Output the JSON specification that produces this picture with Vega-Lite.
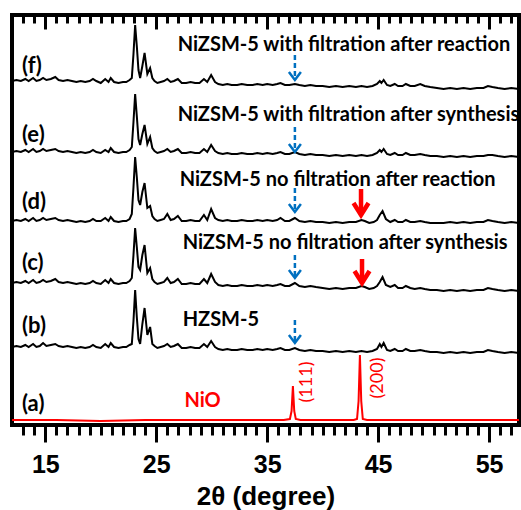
{
"$schema": "https://vega.github.io/schema/vega-lite/v6.json",
"width": 507, "height": 410,
"autosize": "none",
"padding": {"left": 12, "top": 15, "right": 2, "bottom": 85},
"background": "white",
"config": {"view": {"stroke": "black", "strokeWidth": 4}},
"datasets": {
"traces": [
{"s":"f","x":12,"y":344},{"s":"f","x":12.4,"y":345},{"s":"f","x":12.8,"y":344},{"s":"f","x":13.2,"y":346},{"s":"f","x":13.5,"y":344},{"s":"f","x":13.9,"y":347},{"s":"f","x":14.2,"y":344},{"s":"f","x":14.5,"y":345},{"s":"f","x":14.8,"y":347},{"s":"f","x":15.1,"y":345},{"s":"f","x":15.5,"y":346},{"s":"f","x":15.9,"y":348},{"s":"f","x":16.2,"y":345},{"s":"f","x":16.6,"y":344},{"s":"f","x":17,"y":345},{"s":"f","x":17.4,"y":344},{"s":"f","x":17.8,"y":343},{"s":"f","x":18.2,"y":344},{"s":"f","x":18.6,"y":343},{"s":"f","x":19,"y":344},{"s":"f","x":19.3,"y":346},{"s":"f","x":19.6,"y":344},{"s":"f","x":20,"y":342},{"s":"f","x":20.4,"y":346},{"s":"f","x":20.7,"y":343},{"s":"f","x":20.9,"y":347},{"s":"f","x":21.2,"y":343},{"s":"f","x":21.6,"y":342},{"s":"f","x":22,"y":343},{"s":"f","x":22.3,"y":343},{"s":"f","x":22.6,"y":345},{"s":"f","x":22.8,"y":347},{"s":"f","x":22.95,"y":371},{"s":"f","x":23.1,"y":400},{"s":"f","x":23.25,"y":379},{"s":"f","x":23.4,"y":355},{"s":"f","x":23.55,"y":347},{"s":"f","x":23.75,"y":359},{"s":"f","x":23.95,"y":372},{"s":"f","x":24.2,"y":351},{"s":"f","x":24.45,"y":357},{"s":"f","x":24.65,"y":347},{"s":"f","x":24.85,"y":344},{"s":"f","x":25.1,"y":342},{"s":"f","x":25.4,"y":343},{"s":"f","x":25.7,"y":344},{"s":"f","x":26,"y":346},{"s":"f","x":26.3,"y":343},{"s":"f","x":26.6,"y":344},{"s":"f","x":26.95,"y":346},{"s":"f","x":27.3,"y":342},{"s":"f","x":27.7,"y":342},{"s":"f","x":28.1,"y":343},{"s":"f","x":28.5,"y":342},{"s":"f","x":28.9,"y":342},{"s":"f","x":29.3,"y":346},{"s":"f","x":29.6,"y":343},{"s":"f","x":29.95,"y":350},{"s":"f","x":30.3,"y":343},{"s":"f","x":30.6,"y":341},{"s":"f","x":31,"y":340},{"s":"f","x":31.4,"y":341},{"s":"f","x":31.8,"y":340},{"s":"f","x":32.3,"y":340},{"s":"f","x":32.7,"y":341},{"s":"f","x":33.2,"y":340},{"s":"f","x":33.7,"y":340},{"s":"f","x":34.1,"y":341},{"s":"f","x":34.6,"y":340},{"s":"f","x":35,"y":341},{"s":"f","x":35.5,"y":340},{"s":"f","x":35.9,"y":341},{"s":"f","x":36.2,"y":342},{"s":"f","x":36.6,"y":340},{"s":"f","x":37,"y":340},{"s":"f","x":37.5,"y":341},{"s":"f","x":37.9,"y":340},{"s":"f","x":38.4,"y":339},{"s":"f","x":38.9,"y":340},{"s":"f","x":39.4,"y":339},{"s":"f","x":40,"y":339},{"s":"f","x":40.6,"y":338},{"s":"f","x":41.2,"y":339},{"s":"f","x":41.8,"y":338},{"s":"f","x":42.4,"y":339},{"s":"f","x":43,"y":338},{"s":"f","x":43.5,"y":339},{"s":"f","x":44,"y":338},{"s":"f","x":44.5,"y":339},{"s":"f","x":44.9,"y":341},{"s":"f","x":45.15,"y":344},{"s":"f","x":45.3,"y":342},{"s":"f","x":45.5,"y":345},{"s":"f","x":45.8,"y":340},{"s":"f","x":46.1,"y":339},{"s":"f","x":46.5,"y":341},{"s":"f","x":46.8,"y":339},{"s":"f","x":47.2,"y":339},{"s":"f","x":47.5,"y":341},{"s":"f","x":47.9,"y":339},{"s":"f","x":48.3,"y":339},{"s":"f","x":48.8,"y":341},{"s":"f","x":49.2,"y":339},{"s":"f","x":49.7,"y":338},{"s":"f","x":50.3,"y":337},{"s":"f","x":50.9,"y":336},{"s":"f","x":51.5,"y":337},{"s":"f","x":52.1,"y":336},{"s":"f","x":52.7,"y":337},{"s":"f","x":53.3,"y":336},{"s":"f","x":53.9,"y":337},{"s":"f","x":54.5,"y":337},{"s":"f","x":54.9,"y":339},{"s":"f","x":55.3,"y":338},{"s":"f","x":55.8,"y":337},{"s":"f","x":56.4,"y":336},{"s":"f","x":57,"y":337},{"s":"f","x":57.7,"y":336},

{"s":"e","x":12,"y":273},{"s":"e","x":12.4,"y":274},{"s":"e","x":12.8,"y":273},{"s":"e","x":13.2,"y":275},{"s":"e","x":13.5,"y":273},{"s":"e","x":13.9,"y":276},{"s":"e","x":14.2,"y":273},{"s":"e","x":14.5,"y":274},{"s":"e","x":14.8,"y":276},{"s":"e","x":15.1,"y":274},{"s":"e","x":15.5,"y":275},{"s":"e","x":15.9,"y":276},{"s":"e","x":16.2,"y":274},{"s":"e","x":16.6,"y":273},{"s":"e","x":17,"y":274},{"s":"e","x":17.4,"y":273},{"s":"e","x":17.8,"y":272},{"s":"e","x":18.2,"y":273},{"s":"e","x":18.6,"y":272},{"s":"e","x":19,"y":273},{"s":"e","x":19.3,"y":275},{"s":"e","x":19.6,"y":273},{"s":"e","x":20,"y":272},{"s":"e","x":20.4,"y":275},{"s":"e","x":20.7,"y":273},{"s":"e","x":20.9,"y":277},{"s":"e","x":21.2,"y":273},{"s":"e","x":21.6,"y":272},{"s":"e","x":22,"y":273},{"s":"e","x":22.3,"y":273},{"s":"e","x":22.6,"y":275},{"s":"e","x":22.8,"y":278},{"s":"e","x":22.95,"y":303},{"s":"e","x":23.1,"y":331},{"s":"e","x":23.25,"y":309},{"s":"e","x":23.4,"y":286},{"s":"e","x":23.55,"y":280},{"s":"e","x":23.75,"y":291},{"s":"e","x":23.95,"y":300},{"s":"e","x":24.2,"y":281},{"s":"e","x":24.45,"y":288},{"s":"e","x":24.65,"y":277},{"s":"e","x":24.85,"y":274},{"s":"e","x":25.1,"y":272},{"s":"e","x":25.4,"y":273},{"s":"e","x":25.7,"y":274},{"s":"e","x":26,"y":276},{"s":"e","x":26.3,"y":273},{"s":"e","x":26.6,"y":274},{"s":"e","x":26.95,"y":276},{"s":"e","x":27.3,"y":272},{"s":"e","x":27.7,"y":272},{"s":"e","x":28.1,"y":273},{"s":"e","x":28.5,"y":272},{"s":"e","x":28.9,"y":272},{"s":"e","x":29.3,"y":276},{"s":"e","x":29.6,"y":273},{"s":"e","x":29.95,"y":280},{"s":"e","x":30.3,"y":274},{"s":"e","x":30.6,"y":272},{"s":"e","x":31,"y":271},{"s":"e","x":31.4,"y":272},{"s":"e","x":31.8,"y":271},{"s":"e","x":32.3,"y":271},{"s":"e","x":32.7,"y":272},{"s":"e","x":33.2,"y":271},{"s":"e","x":33.7,"y":271},{"s":"e","x":34.1,"y":272},{"s":"e","x":34.6,"y":271},{"s":"e","x":35,"y":272},{"s":"e","x":35.5,"y":271},{"s":"e","x":35.9,"y":272},{"s":"e","x":36.2,"y":273},{"s":"e","x":36.6,"y":271},{"s":"e","x":37,"y":271},{"s":"e","x":37.5,"y":273},{"s":"e","x":37.9,"y":271},{"s":"e","x":38.4,"y":270},{"s":"e","x":38.9,"y":271},{"s":"e","x":39.4,"y":270},{"s":"e","x":40,"y":270},{"s":"e","x":40.6,"y":269},{"s":"e","x":41.2,"y":270},{"s":"e","x":41.8,"y":269},{"s":"e","x":42.4,"y":270},{"s":"e","x":43,"y":269},{"s":"e","x":43.5,"y":270},{"s":"e","x":44,"y":269},{"s":"e","x":44.5,"y":270},{"s":"e","x":44.9,"y":272},{"s":"e","x":45.15,"y":275},{"s":"e","x":45.3,"y":273},{"s":"e","x":45.5,"y":276},{"s":"e","x":45.8,"y":271},{"s":"e","x":46.1,"y":270},{"s":"e","x":46.5,"y":272},{"s":"e","x":46.8,"y":270},{"s":"e","x":47.2,"y":270},{"s":"e","x":47.5,"y":272},{"s":"e","x":47.9,"y":270},{"s":"e","x":48.3,"y":270},{"s":"e","x":48.8,"y":271},{"s":"e","x":49.2,"y":270},{"s":"e","x":49.7,"y":269},{"s":"e","x":50.3,"y":269},{"s":"e","x":50.9,"y":268},{"s":"e","x":51.5,"y":269},{"s":"e","x":52.1,"y":268},{"s":"e","x":52.7,"y":269},{"s":"e","x":53.3,"y":268},{"s":"e","x":53.9,"y":269},{"s":"e","x":54.5,"y":269},{"s":"e","x":54.9,"y":270},{"s":"e","x":55.3,"y":270},{"s":"e","x":55.8,"y":269},{"s":"e","x":56.4,"y":268},{"s":"e","x":57,"y":269},{"s":"e","x":57.7,"y":268},

{"s":"d","x":12,"y":204},{"s":"d","x":12.4,"y":205},{"s":"d","x":12.8,"y":204},{"s":"d","x":13.2,"y":206},{"s":"d","x":13.5,"y":204},{"s":"d","x":13.9,"y":207},{"s":"d","x":14.2,"y":204},{"s":"d","x":14.5,"y":205},{"s":"d","x":14.8,"y":207},{"s":"d","x":15.1,"y":205},{"s":"d","x":15.5,"y":206},{"s":"d","x":15.9,"y":207},{"s":"d","x":16.2,"y":205},{"s":"d","x":16.6,"y":204},{"s":"d","x":17,"y":205},{"s":"d","x":17.4,"y":204},{"s":"d","x":17.8,"y":203},{"s":"d","x":18.2,"y":204},{"s":"d","x":18.6,"y":203},{"s":"d","x":19,"y":204},{"s":"d","x":19.3,"y":206},{"s":"d","x":19.6,"y":204},{"s":"d","x":20,"y":204},{"s":"d","x":20.4,"y":207},{"s":"d","x":20.7,"y":204},{"s":"d","x":20.9,"y":208},{"s":"d","x":21.2,"y":204},{"s":"d","x":21.6,"y":203},{"s":"d","x":22,"y":204},{"s":"d","x":22.3,"y":204},{"s":"d","x":22.6,"y":206},{"s":"d","x":22.8,"y":211},{"s":"d","x":22.95,"y":238},{"s":"d","x":23.1,"y":268},{"s":"d","x":23.25,"y":248},{"s":"d","x":23.4,"y":225},{"s":"d","x":23.55,"y":220},{"s":"d","x":23.75,"y":233},{"s":"d","x":23.95,"y":242},{"s":"d","x":24.2,"y":217},{"s":"d","x":24.45,"y":219},{"s":"d","x":24.65,"y":209},{"s":"d","x":24.85,"y":206},{"s":"d","x":25.1,"y":204},{"s":"d","x":25.4,"y":205},{"s":"d","x":25.7,"y":206},{"s":"d","x":26,"y":211},{"s":"d","x":26.3,"y":205},{"s":"d","x":26.6,"y":206},{"s":"d","x":26.95,"y":209},{"s":"d","x":27.3,"y":204},{"s":"d","x":27.7,"y":204},{"s":"d","x":28.1,"y":205},{"s":"d","x":28.5,"y":204},{"s":"d","x":28.9,"y":204},{"s":"d","x":29.3,"y":210},{"s":"d","x":29.6,"y":205},{"s":"d","x":29.95,"y":216},{"s":"d","x":30.3,"y":207},{"s":"d","x":30.6,"y":205},{"s":"d","x":31,"y":204},{"s":"d","x":31.4,"y":205},{"s":"d","x":31.8,"y":204},{"s":"d","x":32.3,"y":204},{"s":"d","x":32.7,"y":205},{"s":"d","x":33.2,"y":204},{"s":"d","x":33.7,"y":204},{"s":"d","x":34.1,"y":205},{"s":"d","x":34.6,"y":204},{"s":"d","x":35,"y":205},{"s":"d","x":35.5,"y":204},{"s":"d","x":35.9,"y":205},{"s":"d","x":36.2,"y":207},{"s":"d","x":36.6,"y":204},{"s":"d","x":37,"y":204},{"s":"d","x":37.5,"y":207},{"s":"d","x":37.9,"y":204},{"s":"d","x":38.4,"y":203},{"s":"d","x":38.9,"y":204},{"s":"d","x":39.4,"y":203},{"s":"d","x":40,"y":203},{"s":"d","x":40.6,"y":202},{"s":"d","x":41.2,"y":203},{"s":"d","x":41.8,"y":202},{"s":"d","x":42.4,"y":203},{"s":"d","x":43,"y":203},{"s":"d","x":43.5,"y":205},{"s":"d","x":43.8,"y":204},{"s":"d","x":44.2,"y":202},{"s":"d","x":44.6,"y":203},{"s":"d","x":44.9,"y":205},{"s":"d","x":45.15,"y":210},{"s":"d","x":45.4,"y":214},{"s":"d","x":45.7,"y":206},{"s":"d","x":46.1,"y":203},{"s":"d","x":46.5,"y":205},{"s":"d","x":46.8,"y":203},{"s":"d","x":47.2,"y":203},{"s":"d","x":47.5,"y":205},{"s":"d","x":47.9,"y":203},{"s":"d","x":48.3,"y":203},{"s":"d","x":48.8,"y":204},{"s":"d","x":49.2,"y":203},{"s":"d","x":49.7,"y":202},{"s":"d","x":50.3,"y":202},{"s":"d","x":50.9,"y":202},{"s":"d","x":51.5,"y":203},{"s":"d","x":52.1,"y":202},{"s":"d","x":52.7,"y":203},{"s":"d","x":53.3,"y":202},{"s":"d","x":53.9,"y":203},{"s":"d","x":54.5,"y":203},{"s":"d","x":54.9,"y":205},{"s":"d","x":55.3,"y":204},{"s":"d","x":55.8,"y":203},{"s":"d","x":56.4,"y":202},{"s":"d","x":57,"y":203},{"s":"d","x":57.7,"y":202},

{"s":"c","x":12,"y":142},{"s":"c","x":12.4,"y":143},{"s":"c","x":12.8,"y":142},{"s":"c","x":13.2,"y":144},{"s":"c","x":13.5,"y":142},{"s":"c","x":13.9,"y":145},{"s":"c","x":14.2,"y":142},{"s":"c","x":14.5,"y":143},{"s":"c","x":14.8,"y":145},{"s":"c","x":15.1,"y":143},{"s":"c","x":15.5,"y":144},{"s":"c","x":15.9,"y":146},{"s":"c","x":16.2,"y":143},{"s":"c","x":16.6,"y":142},{"s":"c","x":17,"y":143},{"s":"c","x":17.4,"y":142},{"s":"c","x":17.8,"y":141},{"s":"c","x":18.2,"y":142},{"s":"c","x":18.6,"y":141},{"s":"c","x":19,"y":142},{"s":"c","x":19.3,"y":144},{"s":"c","x":19.6,"y":142},{"s":"c","x":20,"y":141},{"s":"c","x":20.4,"y":145},{"s":"c","x":20.7,"y":142},{"s":"c","x":20.9,"y":146},{"s":"c","x":21.2,"y":142},{"s":"c","x":21.6,"y":141},{"s":"c","x":22,"y":142},{"s":"c","x":22.3,"y":142},{"s":"c","x":22.6,"y":144},{"s":"c","x":22.8,"y":147},{"s":"c","x":22.95,"y":170},{"s":"c","x":23.1,"y":197},{"s":"c","x":23.25,"y":178},{"s":"c","x":23.4,"y":158},{"s":"c","x":23.55,"y":155},{"s":"c","x":23.75,"y":170},{"s":"c","x":23.95,"y":180},{"s":"c","x":24.2,"y":152},{"s":"c","x":24.45,"y":157},{"s":"c","x":24.65,"y":146},{"s":"c","x":24.85,"y":143},{"s":"c","x":25.1,"y":141},{"s":"c","x":25.4,"y":142},{"s":"c","x":25.7,"y":143},{"s":"c","x":26,"y":147},{"s":"c","x":26.3,"y":142},{"s":"c","x":26.6,"y":143},{"s":"c","x":26.95,"y":146},{"s":"c","x":27.3,"y":141},{"s":"c","x":27.7,"y":141},{"s":"c","x":28.1,"y":142},{"s":"c","x":28.5,"y":141},{"s":"c","x":28.9,"y":141},{"s":"c","x":29.3,"y":146},{"s":"c","x":29.6,"y":142},{"s":"c","x":29.95,"y":151},{"s":"c","x":30.3,"y":143},{"s":"c","x":30.6,"y":140},{"s":"c","x":31,"y":139},{"s":"c","x":31.4,"y":140},{"s":"c","x":31.8,"y":139},{"s":"c","x":32.3,"y":139},{"s":"c","x":32.7,"y":140},{"s":"c","x":33.2,"y":139},{"s":"c","x":33.7,"y":139},{"s":"c","x":34.1,"y":140},{"s":"c","x":34.6,"y":139},{"s":"c","x":35,"y":140},{"s":"c","x":35.5,"y":139},{"s":"c","x":35.9,"y":140},{"s":"c","x":36.2,"y":141},{"s":"c","x":36.6,"y":139},{"s":"c","x":37,"y":139},{"s":"c","x":37.5,"y":142},{"s":"c","x":37.9,"y":139},{"s":"c","x":38.4,"y":138},{"s":"c","x":38.9,"y":139},{"s":"c","x":39.4,"y":138},{"s":"c","x":40,"y":137},{"s":"c","x":40.6,"y":136},{"s":"c","x":41.2,"y":137},{"s":"c","x":41.8,"y":136},{"s":"c","x":42.4,"y":137},{"s":"c","x":43,"y":137},{"s":"c","x":43.5,"y":139},{"s":"c","x":43.8,"y":138},{"s":"c","x":44.2,"y":136},{"s":"c","x":44.6,"y":137},{"s":"c","x":44.9,"y":139},{"s":"c","x":45.15,"y":143},{"s":"c","x":45.4,"y":148},{"s":"c","x":45.7,"y":140},{"s":"c","x":46.1,"y":138},{"s":"c","x":46.5,"y":140},{"s":"c","x":46.8,"y":137},{"s":"c","x":47.2,"y":137},{"s":"c","x":47.5,"y":139},{"s":"c","x":47.9,"y":137},{"s":"c","x":48.3,"y":136},{"s":"c","x":48.8,"y":137},{"s":"c","x":49.2,"y":136},{"s":"c","x":49.7,"y":135},{"s":"c","x":50.3,"y":135},{"s":"c","x":50.9,"y":134},{"s":"c","x":51.5,"y":135},{"s":"c","x":52.1,"y":134},{"s":"c","x":52.7,"y":135},{"s":"c","x":53.3,"y":134},{"s":"c","x":53.9,"y":135},{"s":"c","x":54.5,"y":135},{"s":"c","x":54.9,"y":137},{"s":"c","x":55.3,"y":136},{"s":"c","x":55.8,"y":135},{"s":"c","x":56.4,"y":134},{"s":"c","x":57,"y":135},{"s":"c","x":57.7,"y":134},

{"s":"b","x":12,"y":78},{"s":"b","x":12.4,"y":79},{"s":"b","x":12.8,"y":78},{"s":"b","x":13.2,"y":80},{"s":"b","x":13.5,"y":78},{"s":"b","x":13.9,"y":81},{"s":"b","x":14.2,"y":78},{"s":"b","x":14.5,"y":79},{"s":"b","x":14.8,"y":82},{"s":"b","x":15.1,"y":79},{"s":"b","x":15.5,"y":80},{"s":"b","x":15.9,"y":81},{"s":"b","x":16.2,"y":79},{"s":"b","x":16.6,"y":78},{"s":"b","x":17,"y":79},{"s":"b","x":17.4,"y":78},{"s":"b","x":17.8,"y":77},{"s":"b","x":18.2,"y":78},{"s":"b","x":18.6,"y":77},{"s":"b","x":19,"y":78},{"s":"b","x":19.3,"y":80},{"s":"b","x":19.6,"y":78},{"s":"b","x":20,"y":77},{"s":"b","x":20.4,"y":81},{"s":"b","x":20.7,"y":78},{"s":"b","x":20.9,"y":82},{"s":"b","x":21.2,"y":78},{"s":"b","x":21.6,"y":77},{"s":"b","x":22,"y":78},{"s":"b","x":22.3,"y":78},{"s":"b","x":22.6,"y":80},{"s":"b","x":22.8,"y":81},{"s":"b","x":22.95,"y":104},{"s":"b","x":23.1,"y":135},{"s":"b","x":23.25,"y":108},{"s":"b","x":23.4,"y":86},{"s":"b","x":23.55,"y":81},{"s":"b","x":23.75,"y":101},{"s":"b","x":23.95,"y":117},{"s":"b","x":24.2,"y":90},{"s":"b","x":24.45,"y":98},{"s":"b","x":24.65,"y":81},{"s":"b","x":24.85,"y":79},{"s":"b","x":25.1,"y":77},{"s":"b","x":25.4,"y":78},{"s":"b","x":25.7,"y":79},{"s":"b","x":26,"y":81},{"s":"b","x":26.3,"y":78},{"s":"b","x":26.6,"y":79},{"s":"b","x":26.95,"y":81},{"s":"b","x":27.3,"y":77},{"s":"b","x":27.7,"y":77},{"s":"b","x":28.1,"y":78},{"s":"b","x":28.5,"y":77},{"s":"b","x":28.9,"y":77},{"s":"b","x":29.3,"y":81},{"s":"b","x":29.6,"y":78},{"s":"b","x":29.95,"y":84},{"s":"b","x":30.3,"y":78},{"s":"b","x":30.6,"y":76},{"s":"b","x":31,"y":75},{"s":"b","x":31.4,"y":76},{"s":"b","x":31.8,"y":75},{"s":"b","x":32.3,"y":75},{"s":"b","x":32.7,"y":76},{"s":"b","x":33.2,"y":75},{"s":"b","x":33.7,"y":75},{"s":"b","x":34.1,"y":76},{"s":"b","x":34.6,"y":75},{"s":"b","x":35,"y":76},{"s":"b","x":35.5,"y":75},{"s":"b","x":35.9,"y":76},{"s":"b","x":36.2,"y":77},{"s":"b","x":36.6,"y":75},{"s":"b","x":37,"y":75},{"s":"b","x":37.5,"y":77},{"s":"b","x":37.9,"y":75},{"s":"b","x":38.4,"y":74},{"s":"b","x":38.9,"y":75},{"s":"b","x":39.4,"y":74},{"s":"b","x":40,"y":74},{"s":"b","x":40.6,"y":73},{"s":"b","x":41.2,"y":74},{"s":"b","x":41.8,"y":73},{"s":"b","x":42.4,"y":74},{"s":"b","x":43,"y":73},{"s":"b","x":43.5,"y":74},{"s":"b","x":44,"y":73},{"s":"b","x":44.5,"y":74},{"s":"b","x":44.9,"y":76},{"s":"b","x":45.15,"y":81},{"s":"b","x":45.3,"y":78},{"s":"b","x":45.5,"y":82},{"s":"b","x":45.8,"y":75},{"s":"b","x":46.1,"y":74},{"s":"b","x":46.5,"y":76},{"s":"b","x":46.8,"y":74},{"s":"b","x":47.2,"y":74},{"s":"b","x":47.5,"y":76},{"s":"b","x":47.9,"y":74},{"s":"b","x":48.3,"y":74},{"s":"b","x":48.8,"y":75},{"s":"b","x":49.2,"y":74},{"s":"b","x":49.7,"y":73},{"s":"b","x":50.3,"y":73},{"s":"b","x":50.9,"y":72},{"s":"b","x":51.5,"y":73},{"s":"b","x":52.1,"y":72},{"s":"b","x":52.7,"y":73},{"s":"b","x":53.3,"y":72},{"s":"b","x":53.9,"y":73},{"s":"b","x":54.5,"y":73},{"s":"b","x":54.9,"y":75},{"s":"b","x":55.3,"y":74},{"s":"b","x":55.8,"y":73},{"s":"b","x":56.4,"y":72},{"s":"b","x":57,"y":73},{"s":"b","x":57.7,"y":72},

{"s":"a","x":12,"y":5},{"s":"a","x":16,"y":5},{"s":"a","x":20,"y":4},{"s":"a","x":24,"y":5},{"s":"a","x":28,"y":5},{"s":"a","x":32,"y":5},{"s":"a","x":36.5,"y":5},{"s":"a","x":37.05,"y":6},{"s":"a","x":37.2,"y":14},{"s":"a","x":37.32,"y":39},{"s":"a","x":37.44,"y":14},{"s":"a","x":37.58,"y":6},{"s":"a","x":38,"y":5},{"s":"a","x":40,"y":5},{"s":"a","x":42.8,"y":5},{"s":"a","x":43.1,"y":6},{"s":"a","x":43.24,"y":24},{"s":"a","x":43.36,"y":70},{"s":"a","x":43.48,"y":24},{"s":"a","x":43.62,"y":6},{"s":"a","x":44,"y":5},{"s":"a","x":48,"y":5},{"s":"a","x":52,"y":5},{"s":"a","x":57.7,"y":5}
],
"blue": [
{"x":37.5,"y":370,"y2":345},{"x":37.5,"y":298,"y2":273},{"x":37.5,"y":237,"y2":213},{"x":37.5,"y":170,"y2":147},{"x":37.5,"y":105,"y2":82}
],
"red": [
{"x":43.46,"y":236,"y2":210},{"x":43.55,"y":166,"y2":142}
],
"panels": [
{"t":"(f)","x":12.9,"y":359},{"t":"(e)","x":12.9,"y":290},{"t":"(d)","x":12.9,"y":223},{"t":"(c)","x":12.9,"y":162},{"t":"(b)","x":12.9,"y":99},{"t":"(a)","x":12.9,"y":21}
],
"labels": [
{"t":"NiZSM-5 with filtration after reaction","x":26.93,"y":380},
{"t":"NiZSM-5 with filtration after synthesis","x":26.93,"y":310},
{"t":"NiZSM-5 no filtration after reaction","x":27.11,"y":245},
{"t":"NiZSM-5 no filtration after synthesis","x":27.38,"y":182},
{"t":"HZSM-5","x":27.38,"y":105}
],
"nio": [{"t":"NiO","x":29.18,"y":24}],
"planes": [{"t":"(111)","x":38.63,"y":43},{"t":"(200)","x":45.02,"y":47}]
},
"resolve": {"axis": {"x": "independent"}},
"layer": [
{
"data": {"name": "traces"},
"mark": {"type": "line", "strokeWidth": 2},
"encoding": {
"x": {"field": "x", "type": "quantitative", "scale": {"domain": [12, 57.7], "nice": false, "zero": false},
 "axis": {"orient": "bottom", "values": [15, 25, 35, 45, 55], "tickSize": 17, "tickWidth": 3, "tickColor": "black", "domain": false, "grid": false, "labelFont": "Liberation Sans", "labelFontSize": 25, "labelFontWeight": "bold", "labelColor": "black", "labelPadding": 10, "labelFlush": false, "labelOverlap": false, "title": "2θ (degree)", "titleFont": "Liberation Sans", "titleFontSize": 26, "titleFontWeight": "bold", "titleColor": "black", "titleY": 79, "titleBaseline": "alphabetic"}},
"y": {"field": "y", "type": "quantitative", "scale": {"domain": [0, 410], "nice": false, "zero": false}, "axis": null},
"color": {"field": "s", "type": "nominal", "scale": {"domain": ["a", "b", "c", "d", "e", "f"], "range": ["#FF0000", "#000000", "#000000", "#000000", "#000000", "#000000"]}, "legend": null}
}
},
{
"data": {"name": "blue"},
"mark": {"type": "rule", "color": "#0070C0", "strokeWidth": 2.5, "strokeDash": [5, 3]},
"encoding": {
"x": {"field": "x", "type": "quantitative", "scale": {"domain": [12, 57.7], "nice": false, "zero": false},
 "axis": {"orient": "bottom", "values": [13,14,15,16,17,18,19,20,21,22,23,24,25,26,27,28,29,30,31,32,33,34,35,36,37,38,39,40,41,42,43,44,45,46,47,48,49,50,51,52,53,54,55,56,57], "tickSize": 10, "tickWidth": 3, "tickColor": "black", "domain": false, "grid": false, "labels": false, "title": null}},
"y": {"field": "y", "type": "quantitative", "scale": {"domain": [0, 410], "nice": false, "zero": false}, "axis": null},
"y2": {"field": "y2"}
}
},
{
"data": {"name": "blue"},
"mark": {"type": "point", "shape": "M-0.75,-1L0,0L0.75,-1", "filled": false, "stroke": "#0070C0", "strokeWidth": 2.5, "size": 256, "opacity": 1},
"encoding": {
"x": {"field": "x", "type": "quantitative", "scale": {"domain": [12, 57.7], "nice": false, "zero": false},
 "axis": {"orient": "bottom", "offset": -410, "values": [15, 25, 35, 45, 55], "tickSize": 14, "tickWidth": 3, "tickColor": "black", "domain": false, "grid": false, "labels": false, "title": null}},
"y": {"field": "y2", "type": "quantitative", "scale": {"domain": [0, 410], "nice": false, "zero": false}, "axis": null}
}
},
{
"data": {"name": "red"},
"mark": {"type": "rule", "color": "#FF0000", "strokeWidth": 4.5},
"encoding": {
"x": {"field": "x", "type": "quantitative", "scale": {"domain": [12, 57.7], "nice": false, "zero": false},
 "axis": {"orient": "bottom", "offset": -410, "values": [13,14,15,16,17,18,19,20,21,22,23,24,25,26,27,28,29,30,31,32,33,34,35,36,37,38,39,40,41,42,43,44,45,46,47,48,49,50,51,52,53,54,55,56,57], "tickSize": 8, "tickWidth": 3, "tickColor": "black", "domain": false, "grid": false, "labels": false, "title": null}},
"y": {"field": "y", "type": "quantitative", "scale": {"domain": [0, 410], "nice": false, "zero": false}, "axis": null},
"y2": {"field": "y2"}
}
},
{
"data": {"name": "red"},
"mark": {"type": "point", "shape": "M-1,-1.6L0,0L1,-1.6", "filled": false, "stroke": "#FF0000", "strokeWidth": 4.5, "size": 225, "opacity": 1},
"encoding": {
"x": {"field": "x", "type": "quantitative", "axis": null},
"y": {"field": "y2", "type": "quantitative", "axis": null}
}
},
{
"data": {"name": "panels"},
"mark": {"type": "text", "align": "left", "baseline": "middle", "font": "Lato", "fontWeight": "bold", "fontSize": 22, "color": "black"},
"encoding": {
"x": {"field": "x", "type": "quantitative", "axis": null},
"y": {"field": "y", "type": "quantitative", "axis": null},
"text": {"field": "t"}
}
},
{
"data": {"name": "labels"},
"mark": {"type": "text", "align": "left", "baseline": "middle", "font": "Lato", "fontWeight": "bold", "fontSize": 20, "color": "black"},
"encoding": {
"x": {"field": "x", "type": "quantitative", "axis": null},
"y": {"field": "y", "type": "quantitative", "axis": null},
"text": {"field": "t"}
}
},
{
"data": {"name": "nio"},
"mark": {"type": "text", "align": "center", "baseline": "middle", "font": "Lato", "fontWeight": "bold", "fontSize": 20, "color": "#FF0000"},
"encoding": {
"x": {"field": "x", "type": "quantitative", "axis": null},
"y": {"field": "y", "type": "quantitative", "axis": null},
"text": {"field": "t"}
}
},
{
"data": {"name": "planes"},
"mark": {"type": "text", "align": "center", "baseline": "middle", "angle": 270, "font": "Lato", "fontSize": 18, "color": "#FF0000"},
"encoding": {
"x": {"field": "x", "type": "quantitative", "axis": null},
"y": {"field": "y", "type": "quantitative", "axis": null},
"text": {"field": "t"}
}
}
]
}
